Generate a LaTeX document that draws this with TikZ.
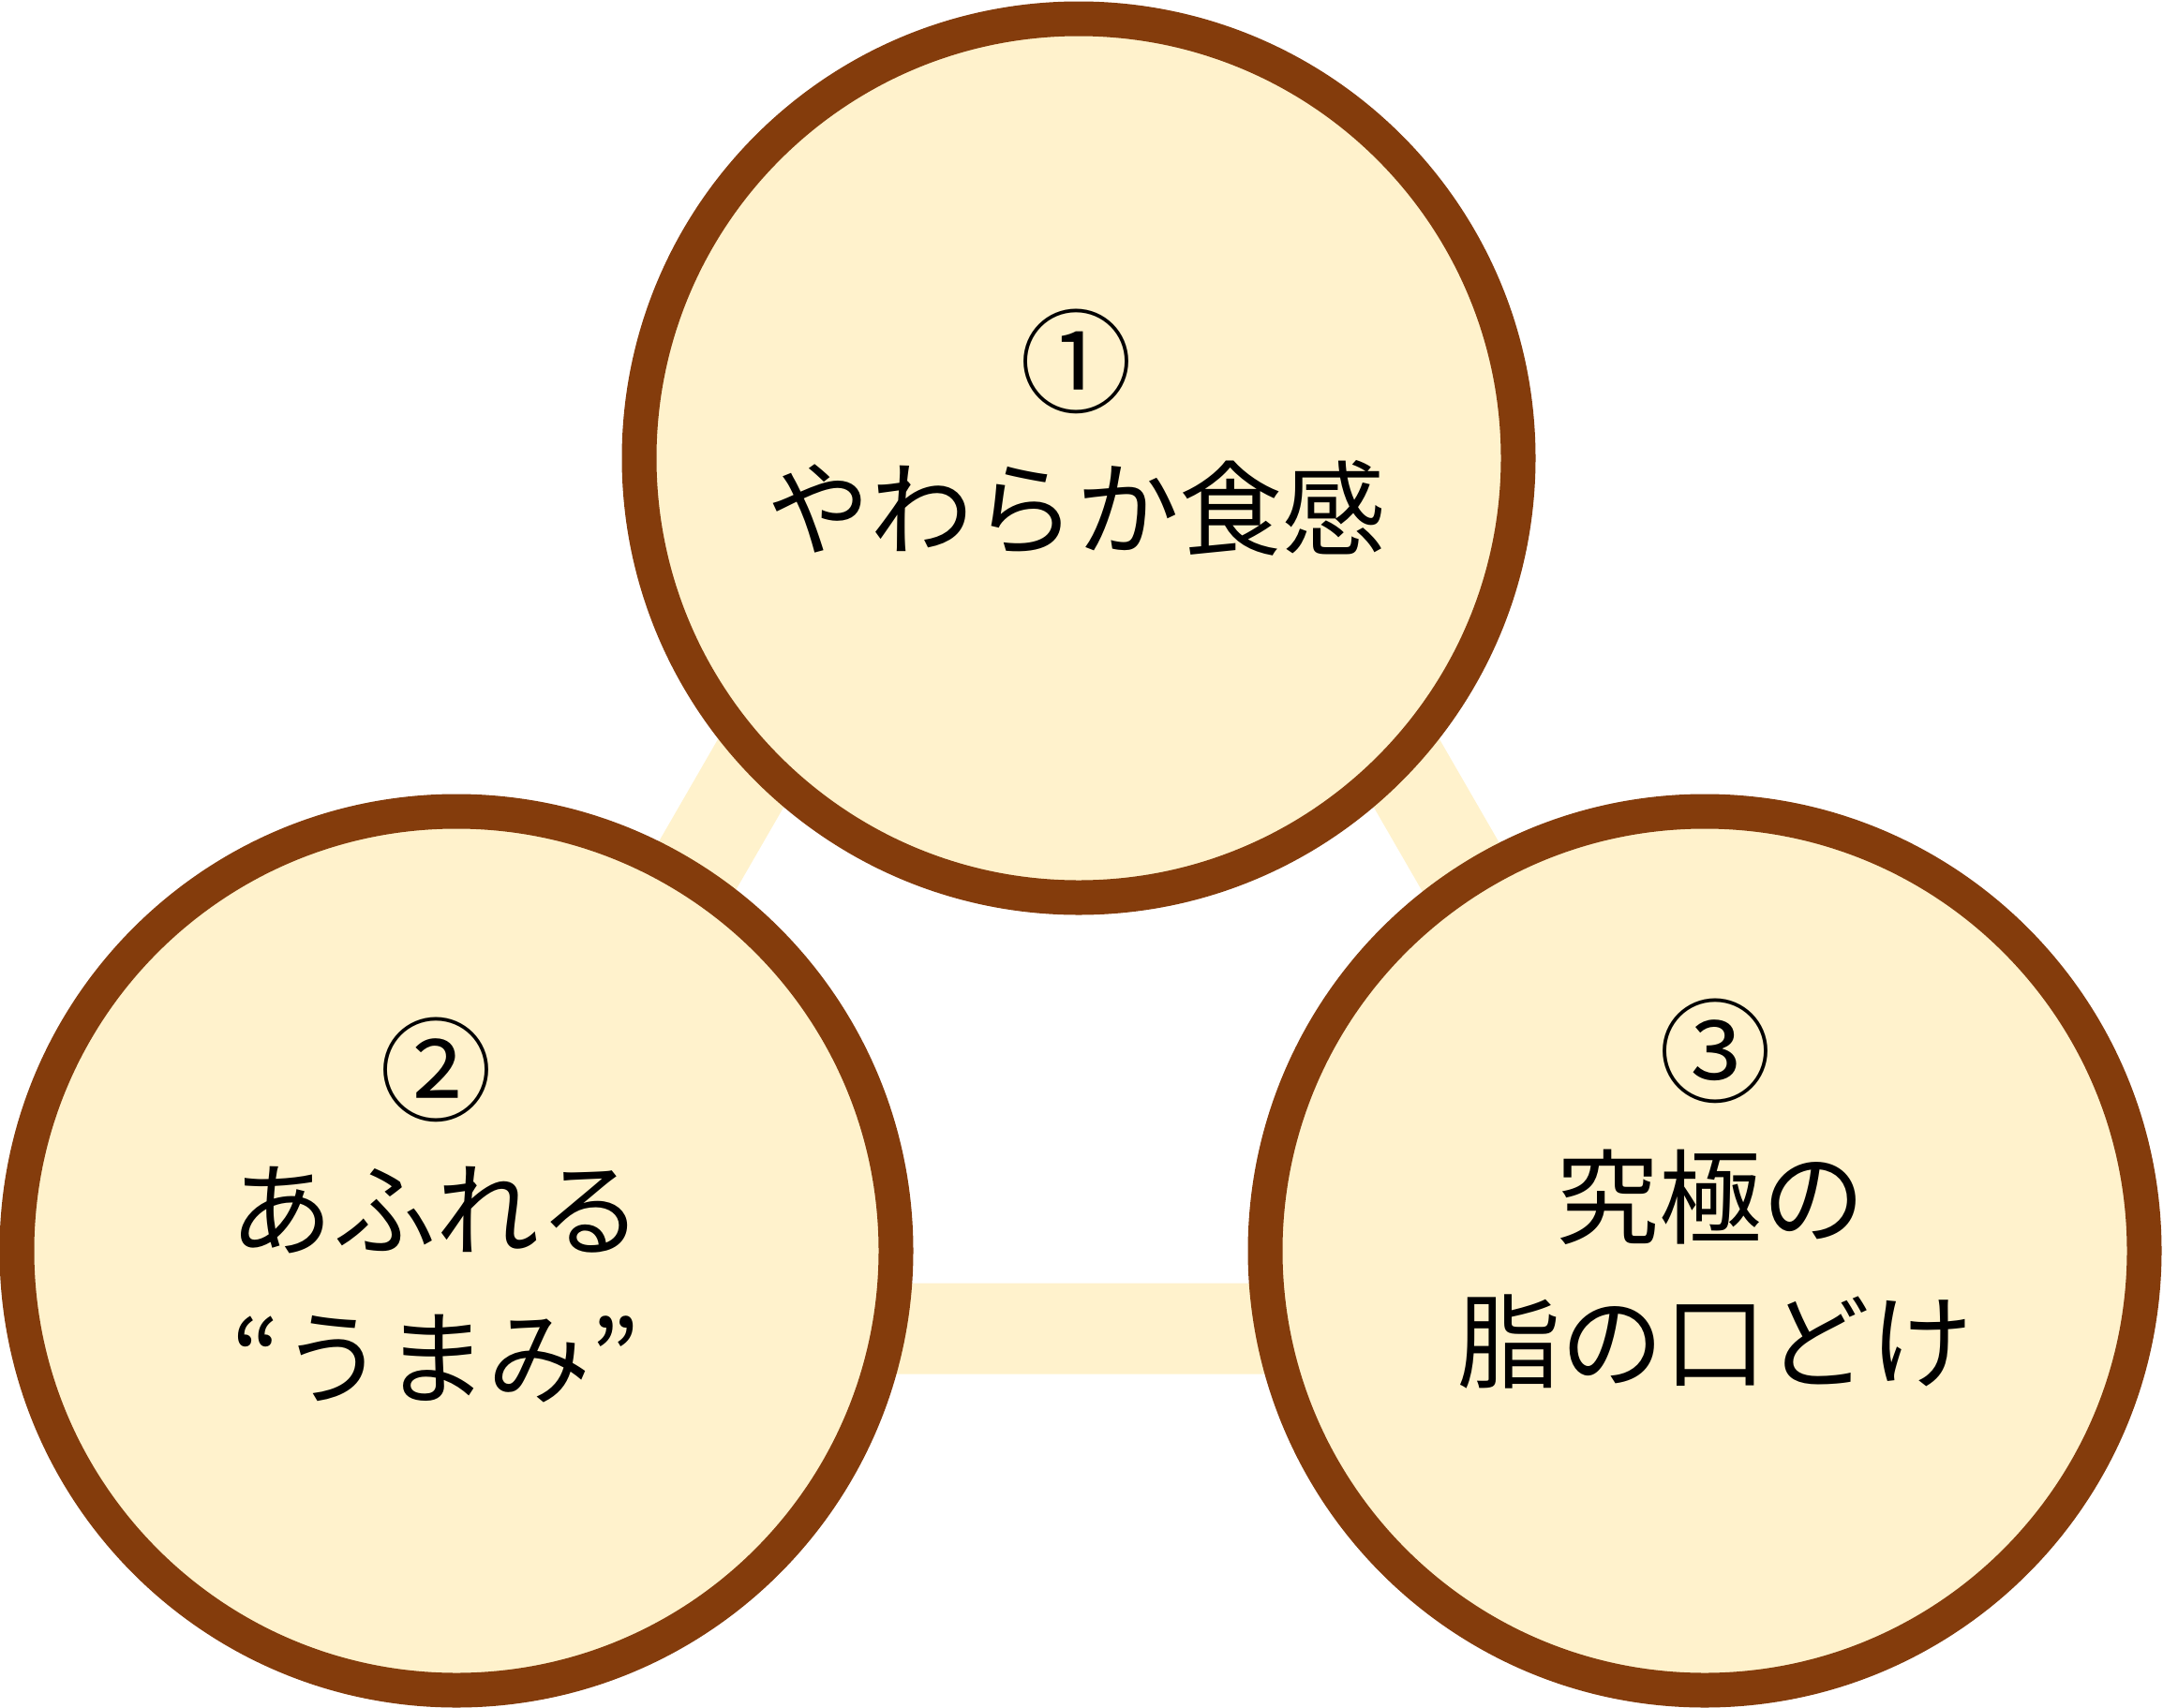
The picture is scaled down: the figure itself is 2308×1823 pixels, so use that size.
\documentclass[tikz,border=0pt]{standalone}
\usepackage{fontspec}
\newfontfamily\jp{Noto Sans CJK JP}
\definecolor{ring}{RGB}{132,60,12}
\definecolor{cream}{RGB}{255,242,204}
\begin{document}
\begin{tikzpicture}[x=1pt,y=-1pt,
  bubble/.style={circle,draw=ring,line width=37pt,fill=cream,minimum size=938pt,inner sep=0pt},
  label/.style={font=\jp\fontsize{110}{130}\selectfont,inner sep=0pt},
  num/.style={font=\jp\fontsize{120}{130}\selectfont,inner sep=0pt}]
\useasboundingbox (0,0) rectangle (2308,1823);
\coordinate (va) at (1151,219);
\coordinate (vb) at (459,1418);
\coordinate (vc) at (1843,1418);
\draw[cream,line width=97pt] (va) -- (vb) -- (vc) -- cycle;
\node[bubble] (c1) at (1151,489) {};
\node[bubble] (c2) at (487,1335) {};
\node[bubble] (c3) at (1819,1335) {};
\node[num] (n1) at (1148,386) {①};
\node[label] (t1) at (1148,542) {やわらか食感};
\node[num] (n2) at (465,1142) {②};
\node[label] (t2a) at (465,1292) {あふれる};
\node[label] (t2b) at (465,1450) {“うまみ”};
\node[num] (n3) at (1830,1122) {③};
\node[label] (t3a) at (1825,1278) {究極の};
\node[label] (t3b) at (1830,1432) {脂の口どけ};
\end{tikzpicture}
\end{document}
